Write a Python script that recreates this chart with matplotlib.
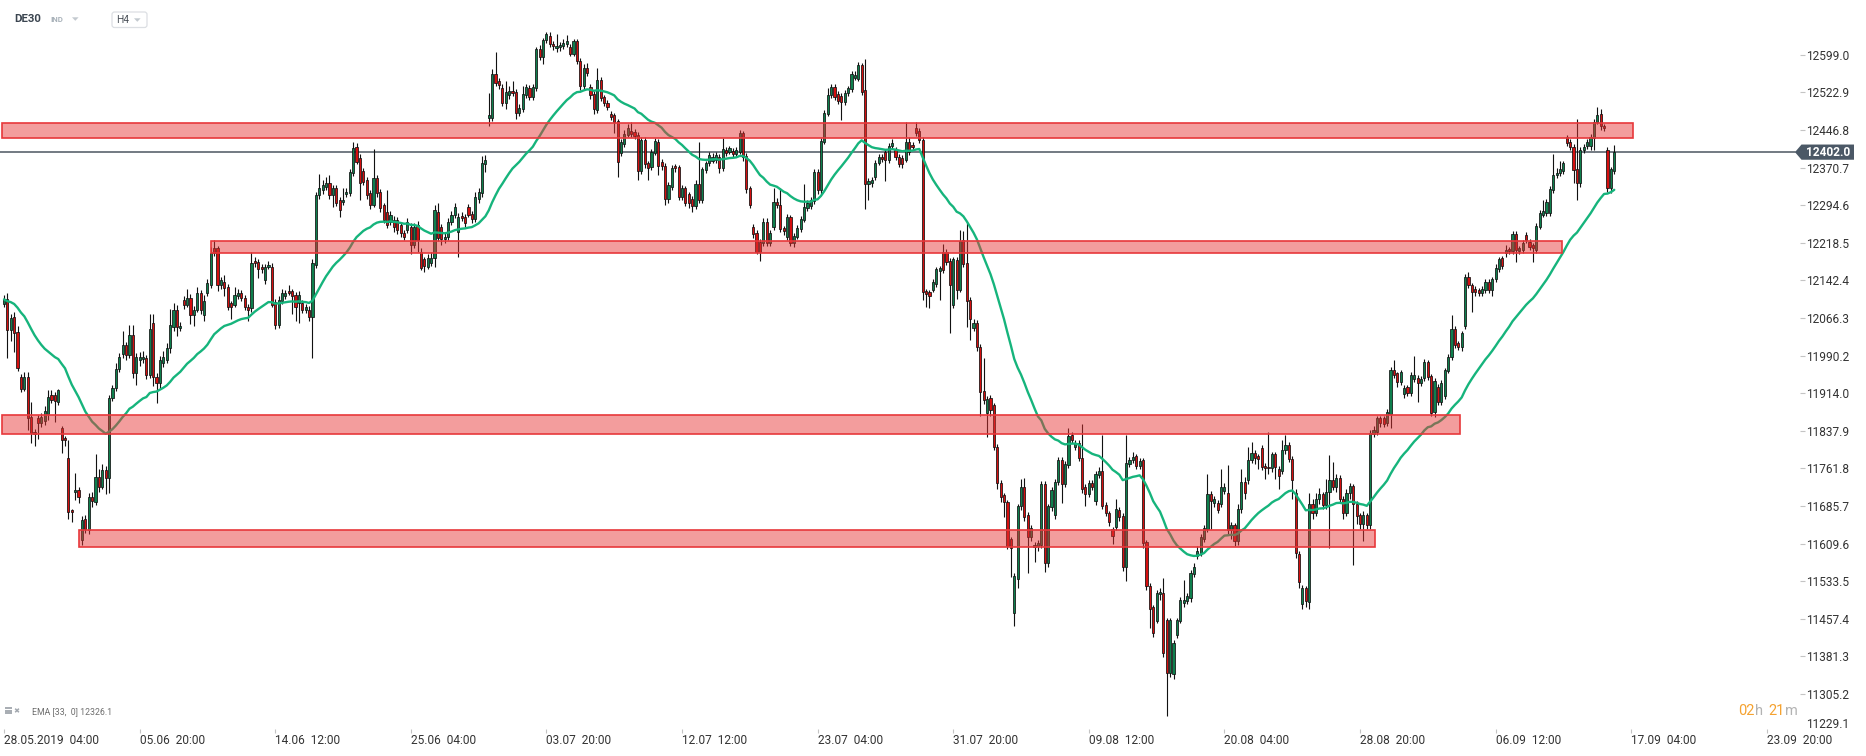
import numpy as np
import pandas as pd
import matplotlib
matplotlib.use("Agg")
import matplotlib.pyplot as plt
from matplotlib.patches import Rectangle, Polygon, FancyBboxPatch

# ---------------- data (DE30, H4 candles) ----------------
opens = [
    12094,12104,12043,12069,12037,11946,11922,11946,11866,11836,
    11863,11854,11858,11873,11910,11910,11897,11843,11823,11782,
    11677,11715,11718,11617,11660,11637,11705,11694,11745,11725,
    11758,11742,11904,11924,11964,11993,12011,11991,12032,11954,
    11982,11984,11985,11951,12056,11947,11934,11975,11981,12005,
    12049,12083,12046,12103,12093,12106,12072,12083,12116,12072,
    12116,12133,12207,12207,12133,12140,12130,12096,12093,12110,
    12116,12106,12089,12086,12182,12180,12170,12143,12170,12170,
    12099,12052,12100,12110,12120,12120,12113,12096,12096,12083,
    12083,12069,12173,12315,12325,12332,12339,12315,12329,12305,
    12302,12318,12319,12359,12413,12390,12363,12346,12319,12295,
    12349,12322,12295,12281,12261,12265,12265,12255,12238,12244,
    12251,12214,12254,
    12200,12185,12170,12177,12187,12280,12250,
    12226,12231,12261,12275,12241,12273,12271,12290,12277,12266,
    12308,12319,12378,12472,12472,12560,12545,12531,12502,12518,
    12526,12524,12482,12489,12518,12531,12513,12531,12610,12594,
    12628,12637,12621,12612,12614,12617,12621,12614,12601,12626,
    12587,12536,12572,12533,12520,12487,12548,12513,12502,12479,
    12477,12466,12401,12418,12437,12445,12442,12437,12364,12427,
    12379,12372,12401,12423,12383,12374,12308,12331,12373,12371,
    12312,12329,12317,12308,12292,12337,12306,12366,12379,12385,
    12386,12392,12369,12406,12403,12405,12399,12403,12440,12394,
    12329,12250,12238,12221,12219,12261,12219,12251,12302,12295,
    12248,12231,12270,12219,12231,12246,12265,12288,12292,12304,
    12362,12325,12423,12480,
    12518,12534,12520,12516,12504,12521,
    12529,12553,12551,12578,12528,12337,12339,12351,12381,12393,
    12403,12387,12414,12406,12393,12391,12387,12423,12417,12450,
    12445,12427,
    12120,12118,12123,12136,12162,12200,12200,12182,
    12093,12184,12123,12224,12177,12103,12047,12057,12008,11919,
    11875,11904,11890,11806,11733,11708,11693,11618,11470,11539,
    11685,11725,11668,11624,11602,11605,11607,11730,11570,11683,
    11668,11735,11778,11730,11769,11830,11806,11814,11782,11725,
    11710,11732,11695,11749,11757,11688,11671,11639,11644,11678,
    11666,11562,11771,11778,11786,11767,11778,11612,11524,11481,
    11454,11508,11509,11455,11347,11346,11425,11454,11489,11494,
    11499,11549,11585,11590,11619,11639,11710,11691,11691,11690,
    11717,11713,11637,11647,
    11614,11680,11735,11738,11779,11794,
    11787,11803,11767,11765,11762,11791,11760,11757,11799,11809,
    11780,11712,11589,11487,11519,11492,11690,11672,11700,11710,
    11688,11715,11738,11725,11742,11700,11672,11712,11726,11690,
    11668,11650,11668,11648,11832,11836,11863,11863,11853,11873,
    11962,11954,11937,11913,11926,11915,11942,11944,11934,11944,
    11978,11948,11877,11927,11897,11908,11960,11987,12045,12015,
    12008,12050,12149,12133,12126,12122,12116,12122,12140,12122,
    12145,12165,12187,12197,12205,12201,12236,12201,12204,12234,
    12221,12214,12204,12251,12275,12278,12278,12325,12356,12359,
    12363,12432,12423,12413,12367,12339,12406,12414,12414,12430,
    12464,12479,12455,12406,12329,12363,
]
highs = [
    12112,12117,12075,12078,12050,11952,11957,11957,11897,11842,
    11870,11875,11889,11920,11920,11916,11922,11848,11828,11820,
    11680,11752,11725,11665,11668,11712,11715,11792,11760,11770,
    11766,11910,11930,11975,11995,12040,12018,12052,12052,11995,
    11998,12000,11992,12075,12075,11955,11990,12000,12015,12085,
    12097,12092,12058,12110,12125,12115,12090,12130,12122,12112,
    12145,12210,12225,12212,12150,12153,12135,12100,12130,12125,
    12122,12112,12095,12200,12190,12186,12176,12176,12182,12178,
    12105,12110,12125,12122,12133,12126,12118,12120,12102,12095,
    12090,12185,12322,12357,12345,12352,12355,12335,12336,12312,
    12330,12330,12368,12422,12420,12398,12370,12352,12325,12409,
    12356,12328,12300,12325,12282,12272,12270,12260,12245,12268,
    12258,12258,12262,
    12208,12190,12195,12200,12295,12300,12256,
    12238,12268,12282,12300,12278,12280,12276,12297,12282,12322,
    12330,12394,12396,12521,12571,12604,12552,12540,12545,12535,
    12545,12530,12500,12535,12540,12538,12540,12615,12619,12634,
    12646,12645,12626,12641,12625,12630,12640,12620,12630,12631,
    12592,12580,12582,12540,12526,12573,12555,12518,12508,12485,
    12482,12470,12428,12446,12458,12464,12448,12442,12432,12432,
    12385,12408,12430,12428,12389,12380,12342,12375,12378,12376,
    12336,12334,12322,12313,12345,12423,12372,12385,12402,12400,
    12402,12398,12430,12412,12415,12410,12412,12447,12445,12400,
    12334,12256,12244,12226,12268,12268,12244,12329,12310,12329,
    12253,12276,12274,12238,12254,12272,12337,12306,12312,12368,
    12368,12430,12488,12531,
    12540,12540,12526,12522,12527,12536,
    12567,12566,12584,12583,12590,12350,12352,12387,12398,12399,
    12408,12421,12428,12412,12398,12396,12464,12433,12422,12463,
    12450,12432,
    12125,12122,12146,12170,12172,12216,12206,12188,
    12190,12190,12245,12242,12259,12108,12064,12062,12013,11985,
    11908,11910,11895,11812,11738,11713,11698,11623,11550,11690,
    11740,11742,11673,11648,11612,11616,11736,11736,11690,11724,
    11740,11784,11784,11776,11843,11836,11820,11820,11852,11730,
    11738,11738,11757,11765,11830,11693,11676,11644,11700,11684,
    11671,11830,11784,11796,11792,11782,11783,11617,11529,11486,
    11515,11520,11540,11460,11460,11414,11460,11502,11536,11510,
    11556,11570,11605,11630,11648,11750,11716,11706,11697,11760,
    11732,11768,11653,11652,
    11690,11760,11745,11806,11816,11800,
    11792,11810,11772,11836,11796,11796,11766,11820,11830,11816,
    11786,11720,11594,11525,11524,11712,11700,11712,11722,11715,
    11740,11790,11774,11750,11748,11706,11720,11732,11730,11695,
    11672,11675,11672,11840,11848,11868,11868,11867,11882,11968,
    11981,11958,11962,11930,11930,11956,11989,11950,11948,11984,
    11982,11952,11944,11932,11940,11966,11993,12072,12050,12020,
    12040,12155,12160,12138,12131,12127,12132,12145,12145,12150,
    12175,12190,12192,12214,12210,12243,12243,12212,12224,12240,
    12226,12218,12258,12284,12305,12308,12333,12398,12370,12385,
    12384,12437,12428,12418,12470,12412,12418,12428,12438,12470,
    12493,12490,12458,12412,12372,12416,
]
lows = [
    12088,11985,12020,11998,11960,11916,11918,11840,11813,11808,
    11821,11845,11850,11860,11895,11855,11890,11793,11808,11660,
    11654,11698,11691,11607,11632,11630,11684,11688,11715,11720,
    11711,11712,11898,11918,11958,11985,11982,11985,11944,11930,
    11970,11975,11942,11945,11928,11895,11925,11968,11975,11995,
    12040,12030,12040,12085,12088,12055,12050,12078,12075,12060,
    12110,12128,12192,12120,12126,12110,12082,12065,12088,12104,
    12100,12082,12060,12078,12170,12147,12158,12136,12165,12088,
    12045,12046,12094,12105,12112,12075,12060,12057,12076,12076,
    12060,11985,12168,12308,12318,12326,12308,12290,12292,12270,
    12296,12312,12314,12354,12378,12306,12336,12308,12287,12290,
    12312,12280,12258,12248,12255,12240,12237,12230,12225,12238,
    12195,12208,12200,
    12163,12160,12165,12172,12170,12222,12215,
    12219,12225,12255,12268,12190,12262,12250,12270,12258,12260,
    12300,12312,12362,12454,12465,12535,12530,12495,12490,12510,
    12515,12470,12475,12484,12512,12507,12508,12525,12588,12581,
    12622,12615,12608,12605,12606,12610,12615,12597,12596,12580,
    12528,12530,12556,12510,12480,12482,12505,12495,12488,12468,
    12440,12352,12395,12412,12432,12432,12428,12345,12358,12370,
    12345,12366,12396,12356,12366,12295,12300,12325,12362,12305,
    12305,12292,12288,12281,12286,12300,12300,12360,12373,12380,
    12380,12360,12364,12395,12398,12393,12394,12398,12384,12320,
    12288,12228,12195,12182,12212,12212,12212,12245,12288,12240,
    12235,12225,12212,12210,12226,12240,12260,12283,12287,12298,
    12318,12318,12418,12475,
    12512,12508,12500,12467,12498,12515,
    12524,12548,12546,12518,12286,12305,12332,12346,12376,12382,
    12344,12381,12408,12387,12372,12370,12382,12397,12406,12434,
    12420,12102,
    12088,12086,12118,12130,12103,12158,12174,12035,
    12086,12105,12118,12170,12049,12022,12040,12000,11867,11892,
    11826,11868,11800,11720,11693,11664,11598,11543,11442,11520,
    11678,11656,11550,11615,11573,11595,11600,11553,11562,11676,
    11660,11728,11691,11724,11763,11813,11800,11776,11712,11685,
    11704,11718,11688,11742,11680,11665,11646,11609,11638,11655,
    11555,11533,11765,11772,11760,11760,11600,11515,11438,11420,
    11448,11495,11380,11261,11340,11336,11418,11448,11482,11488,
    11492,11543,11579,11584,11612,11633,11640,11684,11671,11684,
    11710,11630,11620,11605,
    11606,11672,11700,11730,11772,11770,
    11760,11758,11740,11750,11755,11740,11720,11750,11792,11774,
    11700,11580,11520,11477,11482,11477,11660,11665,11690,11680,
    11680,11600,11718,11715,11694,11660,11666,11700,11566,11650,
    11640,11615,11640,11640,11826,11830,11845,11845,11848,11843,
    11945,11927,11930,11905,11908,11908,11936,11897,11928,11938,
    11940,11868,11866,11890,11890,11902,11954,11982,12006,12002,
    12000,12044,12127,12079,12110,12110,12110,12116,12116,12111,
    12140,12160,12166,12190,12195,12195,12180,12195,12198,12218,
    12203,12180,12198,12246,12270,12272,12273,12320,12350,12354,
    12358,12414,12407,12340,12305,12332,12400,12408,12406,12406,
    12458,12446,12444,12322,12320,12358,
]
closes = [
    12104,12043,12066,12035,11966,11922,11946,11863,11833,11831,
    11853,11865,11878,11907,11900,11899,11921,11819,11819,11674,
    11674,11718,11705,11657,11640,11704,11695,11745,11725,11758,
    11743,11904,11924,11964,11988,12011,11991,12032,11954,11988,
    11988,11987,11951,12045,11947,11934,11981,11988,12005,12052,
    12083,12049,12050,12093,12106,12072,12083,12116,12083,12100,
    12137,12197,12197,12133,12143,12128,12089,12089,12113,12116,
    12106,12089,12083,12178,12177,12165,12165,12170,12174,12093,
    12052,12103,12116,12116,12116,12110,12089,12113,12083,12089,
    12069,12177,12315,12329,12336,12339,12315,12329,12299,12285,
    12305,12322,12362,12410,12383,12339,12342,12315,12295,12349,
    12319,12288,12265,12255,12275,12251,12244,12238,12231,12261,
    12214,12251,12224,
    12167,12172,12187,12187,12285,12228,12226,
    12230,12261,12275,12290,12271,12268,12258,12275,12266,12312,
    12322,12379,12386,12477,12561,12541,12538,12502,12524,12526,
    12521,12482,12491,12520,12533,12513,12533,12610,12594,12629,
    12642,12621,12617,12617,12619,12622,12626,12601,12626,12587,
    12536,12572,12563,12518,12489,12548,12511,12501,12494,12474,
    12464,12383,12423,12439,12450,12439,12435,12364,12427,12378,
    12369,12403,12425,12374,12373,12307,12335,12369,12369,12312,
    12329,12300,12300,12293,12337,12306,12367,12379,12396,12393,
    12396,12369,12408,12401,12410,12399,12406,12440,12392,12327,
    12295,12236,12199,12199,12261,12219,12238,12302,12295,12246,
    12243,12270,12219,12232,12248,12266,12290,12300,12305,12362,
    12325,12425,12482,12518,
    12533,12513,12505,12504,12521,12531,
    12560,12558,12578,12524,12337,12344,12346,12381,12393,12388,
    12387,12414,12421,12393,12378,12378,12423,12403,12412,12440,
    12427,12118,
    12115,12110,12140,12165,12167,12164,12180,12133,
    12185,12123,12223,12176,12100,12064,12057,12007,11917,11900,
    11902,11880,11805,11732,11705,11693,11604,11600,11544,11685,
    11725,11664,11624,11641,11607,11610,11730,11570,11685,11718,
    11735,11778,11730,11771,11828,11820,11814,11782,11720,11711,
    11732,11725,11751,11757,11686,11671,11654,11625,11679,11664,
    11562,11772,11778,11784,11767,11776,11610,11523,11477,11428,
    11509,11512,11389,11347,11455,11408,11455,11496,11496,11504,
    11550,11563,11595,11623,11641,11710,11695,11699,11678,11725,
    11725,11637,11647,11614,
    11680,11735,11712,11779,11794,11782,
    11780,11765,11762,11762,11791,11764,11747,11799,11809,11780,
    11738,11590,11531,11519,11494,11690,11672,11700,11710,11688,
    11715,11738,11725,11742,11700,11672,11712,11726,11690,11665,
    11650,11668,11648,11833,11840,11863,11853,11852,11877,11962,
    11951,11937,11956,11924,11915,11951,11951,11934,11942,11978,
    11946,11875,11938,11897,11935,11961,11988,12045,12012,12008,
    12035,12149,12133,12118,12118,12116,12126,12140,12122,12145,
    12167,12185,12172,12203,12201,12236,12204,12207,12219,12224,
    12209,12207,12253,12278,12282,12302,12327,12356,12360,12367,
    12379,12420,12413,12366,12339,12406,12413,12423,12433,12464,
    12477,12455,12450,12329,12367,12402,
]

# support / resistance zones (price band, bar span)
zone_lo = [12430.0, 12197.0, 11831.5, 11603.5]
zone_hi = [12461.0, 12223.0, 11870.0, 11637.0]
zone_from = [-0.6, 61.1, -0.6, 22.2]
zone_to = [480.5, 459.7, 429.5, 404.3]

# axis labels
price_ticks = [12599.0, 12522.9, 12446.8, 12370.7, 12294.6, 12218.5, 12142.4,
               12066.3, 11990.2, 11914.0, 11837.9, 11761.8, 11685.7, 11609.6,
               11533.5, 11457.4, 11381.3, 11305.2]
bottom_price_label = "11229.1"
time_tick_bars = [0, 40, 80, 120, 160, 200, 240, 280, 320, 360, 400, 440, 480, 520]
time_tick_labels = ["28.05.2019  04:00", "05.06  20:00", "14.06  12:00", "25.06  04:00",
                    "03.07  20:00", "12.07  12:00", "23.07  04:00", "31.07  20:00",
                    "09.08  12:00", "20.08  04:00", "28.08  20:00", "06.09  12:00",
                    "17.09  04:00", "23.09  20:00"]
ema_period = 33
ema_caption = "EMA [33,  0] 12326.1"

# ---------------- style ----------------
plt.rcParams['font.family'] = ['Roboto', 'DejaVu Sans']
W, H = 1866, 756
GREEN = '#0e7f4d'
RED = '#d40f0f'
TXT = '#333333'

fig = plt.figure(figsize=(W / 100, H / 100), dpi=100)
fig.patch.set_facecolor('white')

# main price axes: occupies x 0..1800 px, y 0..733 px (from top)
ax_right_px, ax_bottom_px = 1800, 733
ax = fig.add_axes([0, (H - ax_bottom_px) / H, ax_right_px / W, ax_bottom_px / H])
ppb = 3.39       # pixels per bar
x0 = 4.0         # pixel of bar 0
ax.set_xlim(-x0 / ppb, (ax_right_px - x0) / ppb)
ppx = 76.1 / 37.6  # price per pixel
ax.set_ylim(12599.0 - (ax_bottom_px - 54.8) * ppx, 12599.0 + 54.8 * ppx)
for s in ax.spines.values():
    s.set_visible(False)

o = np.array(opens, float)
h = np.array(highs, float)
l = np.array(lows, float)
c = np.array(closes, float)
h = np.maximum(h, np.maximum(o, c))
l = np.minimum(l, np.minimum(o, c))
x = np.arange(len(c))
up = c >= o
body_lo = np.minimum(o, c)
body_h = np.maximum(np.abs(c - o), 1.6)
cols = np.where(up, GREEN, RED)

# current price line
last = c[-1]
ax.axhline(last, xmin=0, xmax=1795 / ax_right_px, color='#4b5661', lw=1.1, zorder=1.5)

ax.vlines(x, l, h, color='#111111', lw=0.8, zorder=2)
ax.bar(x, body_h, bottom=body_lo, width=0.64, color=cols, edgecolor='#111111',
       linewidth=0.55, zorder=3)

ema = pd.Series(c).ewm(span=ema_period, adjust=False).mean()
ax.plot(x, ema, color='#16b47c', lw=1.7, zorder=4, solid_capstyle='round')

for lo, hi, a, b in zip(zone_lo, zone_hi, zone_from, zone_to):
    ax.add_patch(Rectangle((a, lo), b - a, hi - lo, facecolor=(0.90, 0.20, 0.20, 0.48),
                           edgecolor='none', zorder=5))
    ax.add_patch(Rectangle((a, lo), b - a, hi - lo, facecolor='none',
                           edgecolor='#e8383b', lw=1.2, zorder=5.5))

# y axis on the right
ax.yaxis.tick_right()
ax.set_yticks(price_ticks)
ax.set_yticklabels([f"{v:.1f}" for v in price_ticks])
ax.tick_params(axis='y', direction='out', length=3.3, width=0.8, color='#c4c4c4',
               pad=1.0, labelsize=8.6, labelcolor=TXT)
# x axis
ax.set_xticks(time_tick_bars)
ax.set_xticklabels(time_tick_labels)
ax.tick_params(axis='x', direction='in', length=3.0, width=0.8, color='#c4c4c4',
               pad=1.0, labelsize=8.6, labelcolor=TXT)
for t in ax.get_xticklabels():
    t.set_ha('left')

# ---------------- overlay (pixel coordinates) ----------------
ov = fig.add_axes([0, 0, 1, 1], zorder=10)
ov.set_xlim(0, W)
ov.set_ylim(H, 0)
ov.axis('off')
ov.patch.set_alpha(0)

# header
ov.text(14, 19, 'DE30', fontsize=8.2, fontweight='bold', color='#3b4550', va='center')
ov.text(50, 19, 'IND', fontsize=5.6, fontweight='bold', color='#a8b1b9', va='center')
ov.add_patch(Polygon([(72, 17.3), (78.6, 17.3), (75.3, 20.8)], closed=True,
                     fc='#c3c9cf', ec='none'))
ov.add_patch(FancyBboxPatch((112, 12), 35, 15.5, boxstyle='round,pad=0,rounding_size=2.5',
                            fc='white', ec='#dcdfe3', lw=0.9))
ov.text(116, 20, 'H4', fontsize=7.4, color='#4a5058', va='center')
ov.add_patch(Polygon([(134, 18.3), (140.6, 18.3), (137.3, 21.8)], closed=True,
                     fc='#c3c9cf', ec='none'))

# current price label box
_, ypix = ax.transData.transform((0, last))
yl = H - ypix
ov.add_patch(Polygon([(1795, yl), (1801.5, yl - 7.6), (1854, yl - 7.6), (1854, yl + 7.6),
                      (1801.5, yl + 7.6)], closed=True, fc='#4b5866', ec='none'))
ov.text(1827.8, yl + 0.3, f"{last:.1f}", fontsize=8.6, fontweight='bold', color='white',
        ha='center', va='center')

# bottom price label (no tick)
ov.text(1806.5, 725, bottom_price_label, fontsize=8.6, color=TXT, va='center')

# indicator caption bottom-left
for yy in (708.3, 710.8, 713.3):
    ov.plot([5, 11.5], [yy, yy], color='#a0a6ad', lw=1.3, solid_capstyle='butt')
ov.text(13, 711, '\u2716', fontsize=5.2, color='#a0a6ad', va='center',
        family=['DejaVu Sans'])
ov.text(31.5, 711.5, ema_caption, fontsize=6.3, color='#6e6e6e', va='center')

# timer
ORANGE = '#f5a230'
GREY = '#b3b3b3'
ov.text(1738.5, 711, '02', fontsize=10.5, color=ORANGE, va='center')
ov.text(1755.5, 711, 'h', fontsize=10.5, color=GREY, va='center')
ov.text(1768.5, 711, '21', fontsize=10.5, color=ORANGE, va='center')
ov.text(1785.5, 711, 'm', fontsize=10.5, color=GREY, va='center')

fig.savefig('out.png', dpi=100, facecolor='white')
